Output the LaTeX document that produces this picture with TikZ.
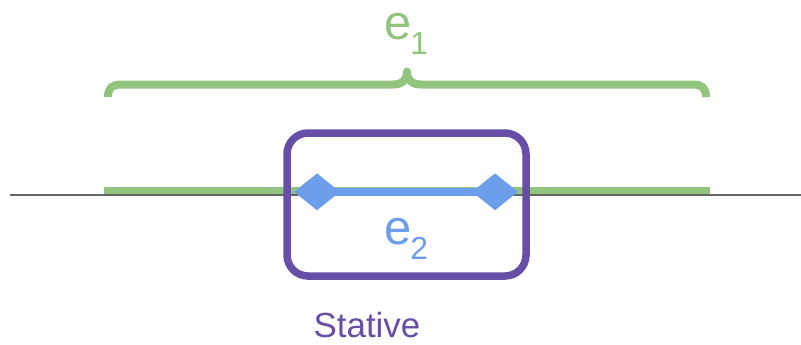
\documentclass[tikz,border=0pt]{standalone}
\usepackage{fontspec}
\setmainfont{Liberation Sans}
\usetikzlibrary{shapes.geometric}
\definecolor{spangreen}{HTML}{93C47D}
\definecolor{spanblue}{HTML}{6D9EEB}
\definecolor{statepurple}{HTML}{674EA7}
\definecolor{axisgray}{HTML}{666666}
\tikzset{
  bigtext/.style={font=\fontsize{49}{49}\selectfont, inner sep=0pt, anchor=base west},
  tipbox/.style={diamond, fill=spanblue, draw=none, inner sep=0pt,
                 minimum width=46bp, minimum height=37bp},
  framebox/.style={draw=statepurple, line width=7.5bp, rounded corners=21bp,
                   minimum width=239bp, minimum height=143bp, inner sep=0pt},
}
\newcommand{\subdigit}[1]{\kern-1.8bp\raisebox{-15.3bp}{\fontsize{32}{32}\selectfont #1}}
\begin{document}
\begin{tikzpicture}[x=1bp, y=-1bp]
  \useasboundingbox (0,0) rectangle (801,344);

  % time axis and the long interval
  \coordinate (gA) at (104,190.8);
  \coordinate (gB) at (710,190.8);
  \coordinate (axL) at (10,195);
  \coordinate (axR) at (801,195);
  \draw[spangreen, line width=8.3bp] (gA) -- (gB);
  \draw[axisgray, line width=2bp] (axL) -- (axR);

  % brace over the long interval
  \draw[spangreen, line width=8bp, line join=round]
    (108,97) .. controls (108,88) and (112,84.5) .. (121,84.5)
    -- (393,84.5) .. controls (402,84.5) and (407,80) .. (407,71.5)
    .. controls (407,80) and (412,84.5) .. (421,84.5)
    -- (693,84.5) .. controls (702,84.5) and (706,88) .. (706,97);
  \node[bigtext, text=spangreen] (e1) at (384.7,39.5) {e\subdigit{1}};

  % the short interval with diamond ends
  \node[tipbox] (d1) at (317,191.8) {};
  \node[tipbox] (d2) at (495,191.8) {};
  \draw[spanblue, line width=8bp] (d1.center) -- (d2.center);
  \node[bigtext, text=spanblue] (e2) at (384.7,244.5) {e\subdigit{2}};

  % stative frame and its label
  \node[framebox] (frame) at (406.5,204.5) {};
  \node[font=\fontsize{35}{35}\selectfont, text=statepurple, anchor=base, inner sep=0pt]
    (stative) at (367,337) {Stative};
\end{tikzpicture}
\end{document}
